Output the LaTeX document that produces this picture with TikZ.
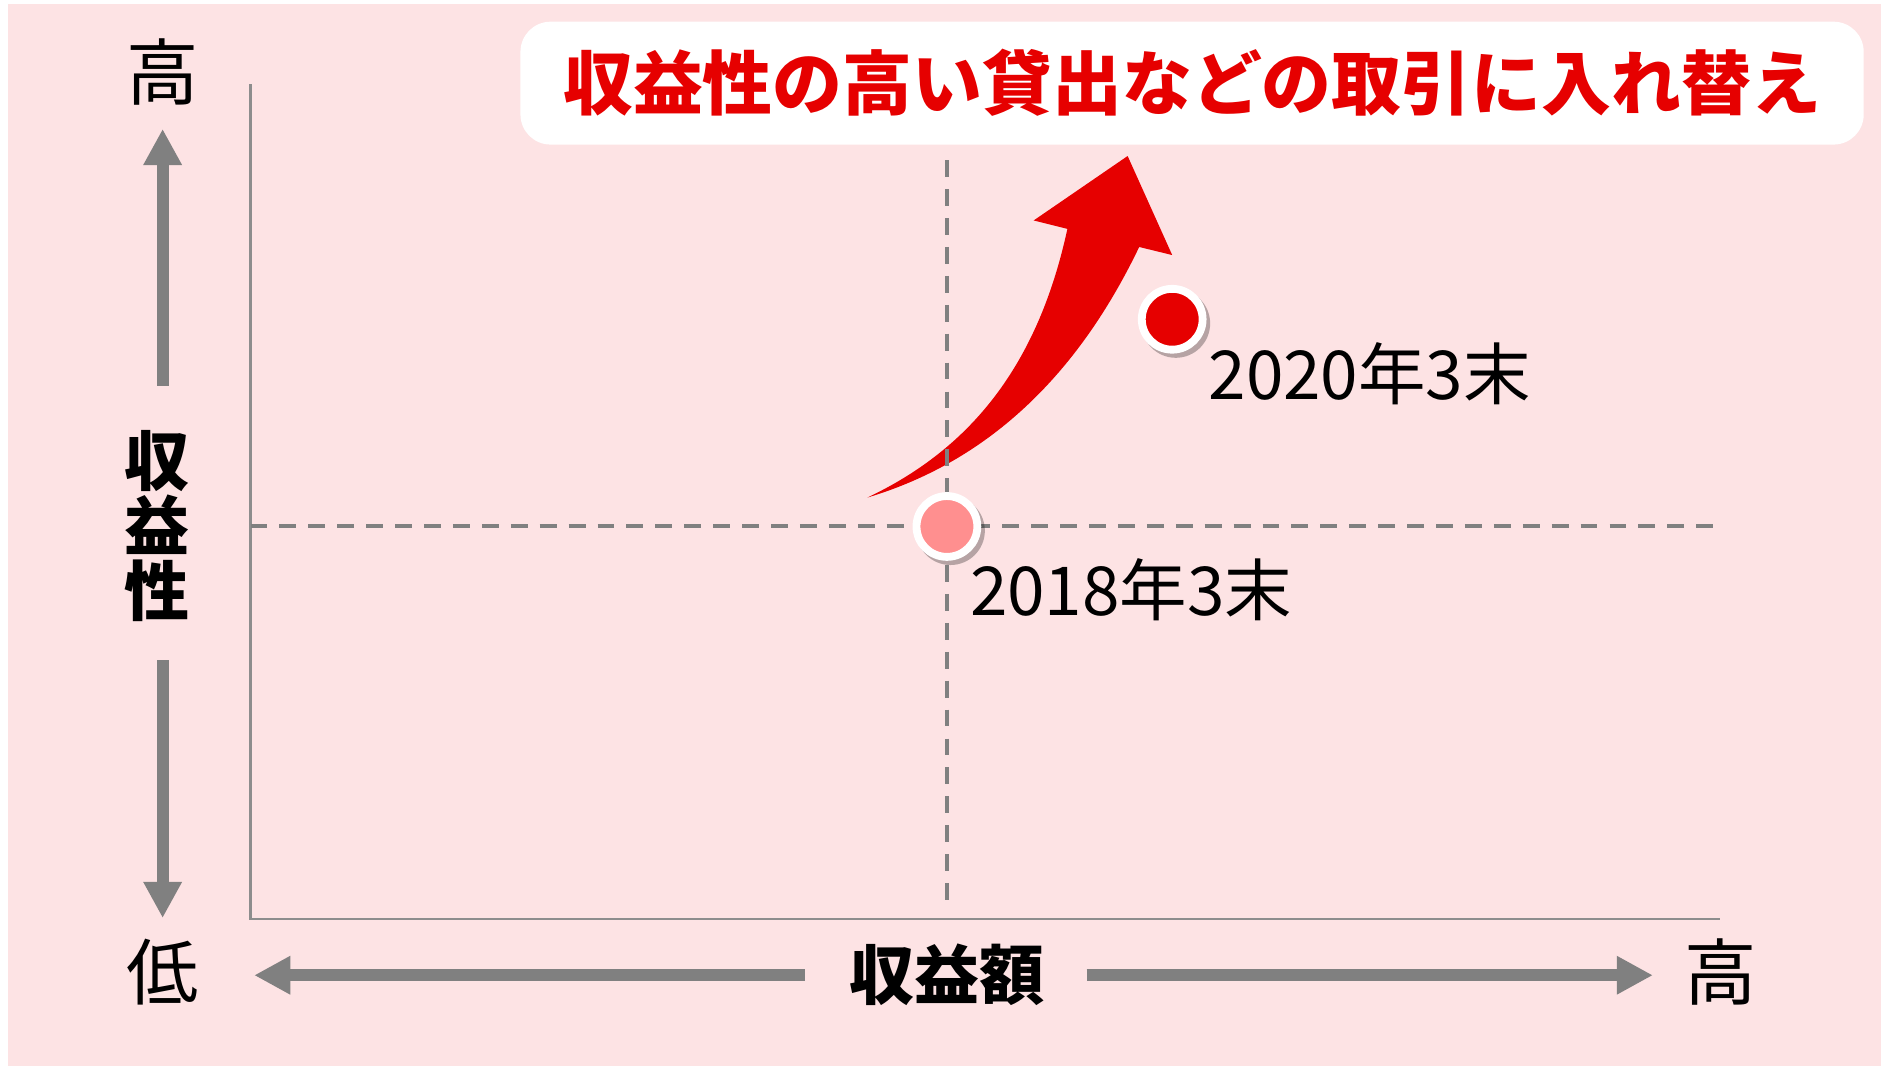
\documentclass[tikz,border=0pt]{standalone}
\usepackage{fontspec}
\newfontfamily\jp{Noto Sans CJK JP}
\usetikzlibrary{arrows.meta}
\definecolor{bgpink}{RGB}{253,227,228}
\definecolor{axgray}{RGB}{128,128,128}
\definecolor{redc}{RGB}{230,0,0}
\definecolor{pinkc}{RGB}{255,143,143}
\tikzset{
  axisline/.style={draw=axgray!90, line width=2pt},
  dashline/.style={draw=axgray, line width=3.3pt, dash pattern=on 14pt off 10pt},
  grayarrow/.style={draw=axgray, line width=10pt, -{Triangle[length=30pt,width=30pt]}},
  dot/.style={circle, draw=white, line width=6.5pt, minimum size=50.5pt, inner sep=0pt},
  dotshadow/.style={circle, fill=black, opacity=0.28, minimum size=57pt, inner sep=0pt},
  bigtxt/.style={font=\jp\fontsize{60}{60}\selectfont, inner sep=0pt},
  boldtxt/.style={font=\jp\bfseries\fontsize{54}{54}\selectfont, inner sep=0pt},
  lbltxt/.style={font=\jp\fontsize{56}{56}\selectfont, inner sep=0pt, anchor=base west},
  titlebox/.style={fill=white, rounded corners=25pt, minimum width=1115pt, minimum height=102pt, inner sep=0pt,
     text=redc, font=\jp\bfseries\fontsize{58}{58}\selectfont}
}
\begin{document}
\begin{tikzpicture}[x=1pt,y=-1pt]
\useasboundingbox (0,0) rectangle (1568,887);
\fill[white] (0,0) rectangle (1568,887);
\fill[bgpink] (7,3) rectangle (1561,885);

% axes
\coordinate (ytop) at (208,70);
\coordinate (origin) at (208,763);
\coordinate (xend) at (1428,763);
\draw[axisline] (ytop) -- (origin) -- (xend);

% red curved arrow
\fill[redc] (720,413) .. controls (800,375) and (860,310) .. (886,190)
  -- (858,183) -- (936,129.5) -- (973,211.7) -- (945.6,205)
  .. controls (900,300) and (830,380) .. (720,413) -- cycle;

% dashed guide lines
\coordinate (vtop) at (786,133);
\coordinate (vbot) at (786,752);
\coordinate (hleft) at (208,437);
\coordinate (hright) at (1430,437);
\draw[dashline] (vtop) -- (vbot);
\draw[dashline] (hleft) -- (hright);

% points
\node[dotshadow] (s2018) at (789,440.5) {};
\node[dot, fill=pinkc] (p2018) at (786,437) {};
\node[dotshadow] (s2020) at (976,268.5) {};
\node[dot, fill=redc] (p2020) at (973,265) {};

\node[lbltxt] (l2020) at (1003,332) {2020年3末};
\node[lbltxt] (l2018) at (805,511) {2018年3末};

% title
\node[titlebox] (title) at (989.5,69) {収益性の高い貸出などの取引に入れ替え};

% vertical axis labels and arrows
\node[bigtxt] (yhigh) at (135,60) {高};
\node[bigtxt] (ylow) at (135,807) {低};
\node[boldtxt, align=center] (ylabel) at (130,437) {収\\益\\性};
\coordinate (upstart) at (135,320);
\coordinate (uptip) at (135,107);
\coordinate (downstart) at (135,548);
\coordinate (downtip) at (135,762);
\draw[grayarrow] (upstart) -- (uptip);
\draw[grayarrow] (downstart) -- (downtip);

% horizontal axis label and arrows
\node[boldtxt] (xlabel) at (786,809) {収益額};
\node[bigtxt] (xhigh) at (1428,807) {高};
\coordinate (leftstart) at (668,809.5);
\coordinate (lefttip) at (211,809.5);
\coordinate (rightstart) at (902,809.5);
\coordinate (righttip) at (1372,809.5);
\draw[grayarrow] (leftstart) -- (lefttip);
\draw[grayarrow] (rightstart) -- (righttip);
\end{tikzpicture}
\end{document}
